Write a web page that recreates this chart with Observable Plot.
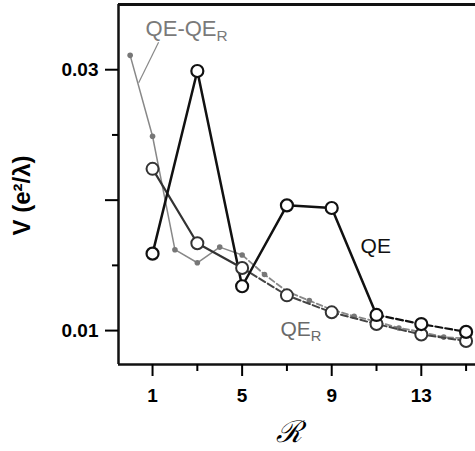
<!DOCTYPE html>
<html><head><meta charset="utf-8">
<script src="https://cdn.jsdelivr.net/npm/d3@7"></script>
<script src="https://cdn.jsdelivr.net/npm/@observablehq/plot@0.6"></script>
<style>body{margin:0;background:#fff} #chart svg{display:block}</style>
</head><body><div id="chart"></div>
<script>
// Data
const R = [1, 3, 5, 7, 9, 11, 13, 15];
const qe = [0.0159, 0.0299, 0.0134, 0.0196, 0.0194, 0.0112, 0.0105, 0.0099];
const qeR = [0.0224, 0.0167, 0.0148, 0.0127, 0.0114, 0.0105, 0.0097, 0.0092];
const Rdiff = [0, 1, 2, 3, 4, 5, 6, 7, 8, 9, 10, 11, 12, 13, 14, 15];
const diff = [0.0311, 0.0249, 0.0162, 0.0152, 0.0164, 0.0158, 0.0143, 0.0130, 0.0123, 0.0116, 0.0111, 0.0107, 0.0102, 0.0099, 0.0095, 0.0094];

const xMajorTicks = [1, 5, 9, 13];
const xMinorTicks = [3, 7, 11, 15];
const yMajorTicks = [0.01, 0.02, 0.03];
const yLabelledTicks = [0.01, 0.03];
const yMinorTicks = [0.015, 0.025];
const xDomain = [-0.52, 15.42];
const yDomain = [0.0074, 0.035];

const seriesLabels = ["QE-QE_R", "QE", "QE_R"];
const labelX = [0.69, 10.29, 6.71];
const labelY = [0.0331, 0.0165, 0.0101];
const labelColors = ["#7a7a7a", "#111", "#6a6a6a"];
const labelSizes = [22, 21, 21];
const leaderX = [1.27, 0.38];
const leaderY = [0.0321, 0.0290];
const xLabel = ["ℛ"];
const yLabel = ["V (e²/λ)"];

const qeRows = R.map((r, i) => ({R: r, V: qe[i]}));
const qeRRows = R.map((r, i) => ({R: r, V: qeR[i]}));
const diffRows = Rdiff.map((r, i) => ({R: r, V: diff[i]}));
const labelRows = seriesLabels.map((t, i) => ({t, x: labelX[i], y: labelY[i], c: labelColors[i], s: labelSizes[i]}));

const font = "Liberation Sans, Arial, sans-serif";

const plot = Plot.plot({
  width: 475,
  height: 451,
  marginLeft: 118,
  marginRight: 0,
  marginTop: 4,
  marginBottom: 87,
  style: {fontFamily: font, background: "#fff", overflow: "visible"},
  x: {domain: xDomain},
  y: {domain: yDomain},
  marks: [
    // frame (left, bottom, top)
    Plot.ruleX([xDomain[0]], {stroke: "#111", strokeWidth: 2.5}),
    Plot.ruleY([yDomain[0]], {stroke: "#111", strokeWidth: 2.5}),
    Plot.ruleY([yDomain[1]], {stroke: "#111", strokeWidth: 3}),
    // axes
    Plot.axisX({ticks: xMajorTicks, tickSize: 12, tickPadding: 12, strokeWidth: 2, fontSize: 19, fontWeight: "bold", label: null, tickFormat: d => String(d)}),
    Plot.axisX({ticks: xMinorTicks, tickSize: 7, strokeWidth: 2, tickFormat: () => "", label: null}),
    Plot.axisY({ticks: yMajorTicks, tickSize: 13, tickPadding: 7, strokeWidth: 2, fontSize: 19, fontWeight: "bold", label: null,
      tickFormat: d => yLabelledTicks.some(v => Math.abs(v - d) < 1e-9) ? d.toFixed(2) : ""}),
    Plot.axisY({ticks: yMinorTicks, tickSize: 6, strokeWidth: 2, tickFormat: () => "", label: null}),
    // QE - QE_R (gray, small dots)
    Plot.line(diffRows.filter(d => d.R <= 5), {x: "R", y: "V", stroke: "#888", strokeWidth: 1.5}),
    Plot.line(diffRows.filter(d => d.R >= 5), {x: "R", y: "V", stroke: "#888", strokeWidth: 1.8, strokeDasharray: "6,3"}),
    Plot.dot(diffRows, {x: "R", y: "V", r: 2.8, fill: "#777", stroke: "none"}),
    // QE_R
    Plot.line(qeRRows.filter(d => d.R <= 5), {x: "R", y: "V", stroke: "#333", strokeWidth: 2.2}),
    Plot.line(qeRRows.filter(d => d.R >= 5), {x: "R", y: "V", stroke: "#444", strokeWidth: 2, strokeDasharray: "7,3"}),
    // QE
    Plot.line(qeRows.filter(d => d.R <= 11), {x: "R", y: "V", stroke: "#111", strokeWidth: 2.5}),
    Plot.line(qeRows.filter(d => d.R >= 11), {x: "R", y: "V", stroke: "#111", strokeWidth: 2.2, strokeDasharray: "7,3"}),
    Plot.dot(qeRRows, {x: "R", y: "V", r: 6, fill: "#fff", stroke: "#333", strokeWidth: 2}),
    Plot.dot(qeRows, {x: "R", y: "V", r: 6, fill: "#fff", stroke: "#111", strokeWidth: 2.2}),
    // leader line for QE-QE_R
    Plot.link([0], {x1: () => leaderX[0], y1: () => leaderY[0], x2: () => leaderX[1], y2: () => leaderY[1], stroke: "#888", strokeWidth: 1.2}),
    // series labels
    Plot.text(labelRows, {x: "x", y: "y", text: "t", fill: "c", textAnchor: "start", lineAnchor: "middle", fontSize: d => d.s}),
    // axis titles
    Plot.text(xLabel, {text: d => d, frameAnchor: "bottom", dx: -8, dy: 68, lineAnchor: "middle", fontSize: 30, fontStyle: "italic", fontFamily: "DejaVu Serif, serif"}),
    Plot.text(yLabel, {text: d => d, frameAnchor: "left", rotate: -90, dx: -96, dy: 11, textAnchor: "middle", lineAnchor: "middle", fontSize: 24, fontWeight: "bold"})
  ]
});

// subscript R in series labels
d3.select(plot).selectAll("text").each(function() {
  const t = this.textContent;
  if (t.endsWith("_R")) {
    const base = t.slice(0, -2);
    this.textContent = "";
    d3.select(this).append("tspan").text(base);
    d3.select(this).append("tspan").attr("font-size", "0.7em").attr("dy", "0.32em").text("R");
  }
});

document.getElementById("chart").appendChild(plot);
</script>
</body></html>
